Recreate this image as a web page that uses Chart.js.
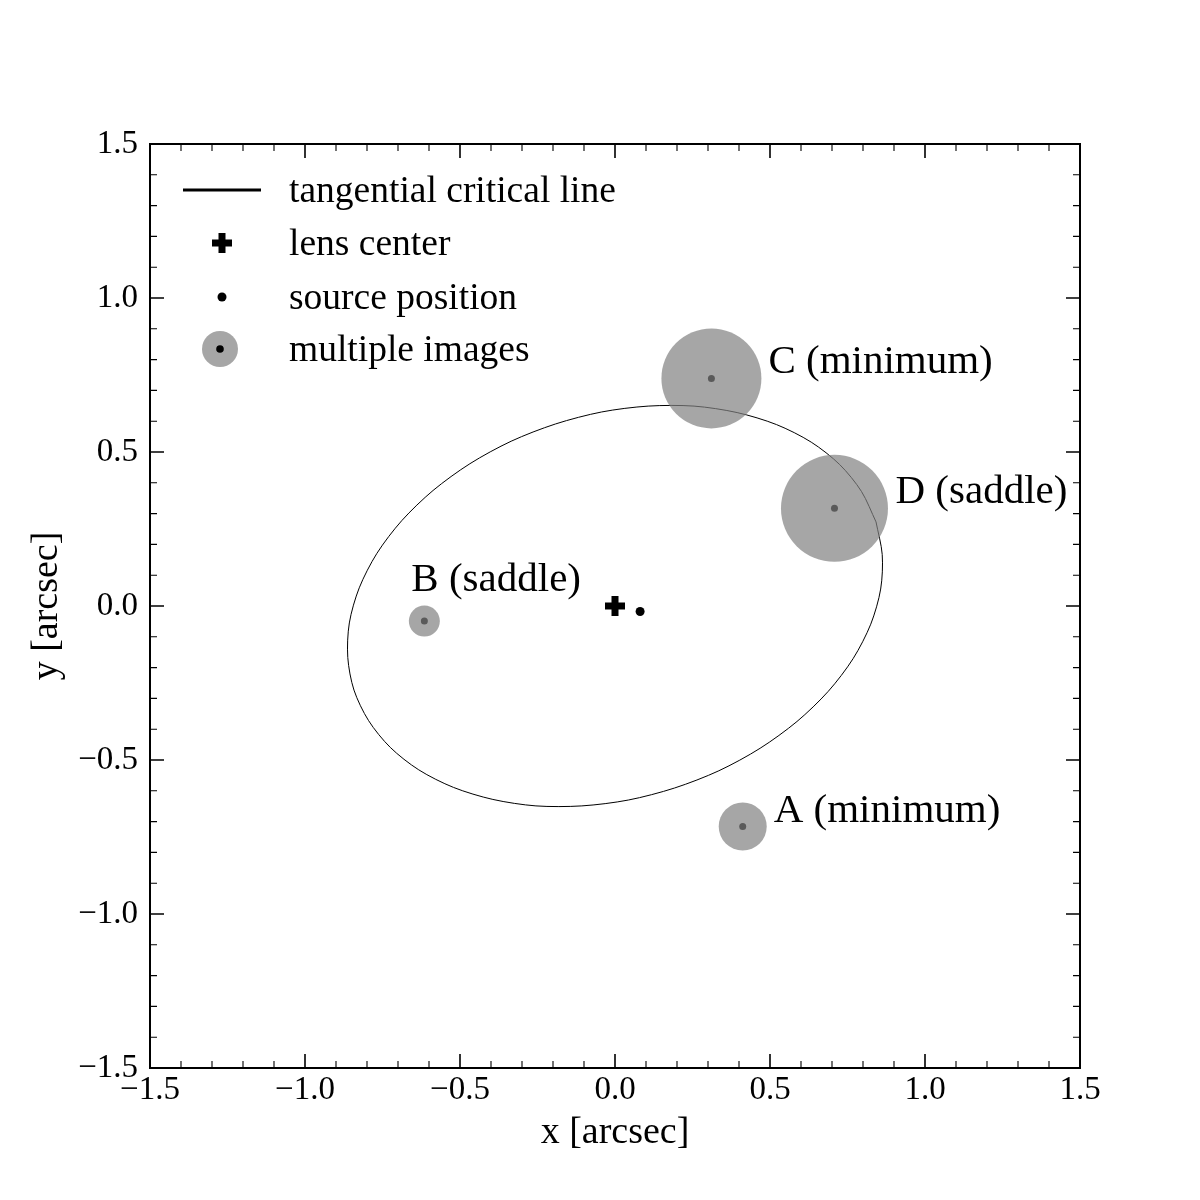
<!DOCTYPE html>
<html>
<head>
<meta charset="utf-8">
<script src="https://cdn.jsdelivr.net/npm/chart.js@4"></script>
<style>
  html, body { margin: 0; padding: 0; background: #fff; }
  #lens { display: block; }
</style>
</head>
<body>
<canvas id="lens" width="1200" height="1200"></canvas>
<script>
// lens model: positions in arcsec
const lensCenterX = [0.0];
const lensCenterY = [0.0];
const sourceX = [0.081];
const sourceY = [-0.018];

// multiple images A, B, C, D
const imageNames = ['A (minimum)', 'B (saddle)', 'C (minimum)', 'D (saddle)'];
const imageX = [0.412, -0.615, 0.311, 0.708];
const imageY = [-0.716, -0.049, 0.739, 0.317];
const imageMagnification = [2.4, 1.55, 5.0, 5.35];

// tangential critical line
const criticalX = [0.842, 0.795, 0.725, 0.633, 0.521, 0.394, 0.255, 0.107, -0.043, -0.192,
  -0.335, -0.468, -0.587, -0.688, -0.768, -0.825, -0.857, -0.862, -0.842, -0.795,
  -0.725, -0.633, -0.521, -0.394, -0.255, -0.107, 0.043, 0.192, 0.335, 0.468,
  0.587, 0.688, 0.768, 0.825, 0.857, 0.862, 0.842];
const criticalY = [0.273, 0.372, 0.459, 0.532, 0.589, 0.628, 0.649, 0.649, 0.630, 0.591,
  0.535, 0.462, 0.375, 0.277, 0.171, 0.059, -0.055, -0.167, -0.273, -0.372,
  -0.459, -0.532, -0.589, -0.628, -0.649, -0.649, -0.630, -0.591, -0.535, -0.462,
  -0.375, -0.277, -0.171, -0.059, 0.055, 0.167, 0.273];

const axisMin = -1.5;
const axisMax = 1.5;

const SERIF = '"Liberation Serif", "DejaVu Serif", serif';
const imageGray = 'rgba(128, 128, 128, 0.7)';

const toPoints = (xs, ys) => xs.map((v, i) => ({ x: v, y: ys[i] }));
const fmtTick = v => v.toFixed(1).replace('-', '\u2212');

// inward ticks on all four sides + frame
const frameAndTicks = {
  id: 'frameAndTicks',
  afterDraw(chart) {
    const { ctx, chartArea: a, scales: { x, y } } = chart;
    ctx.save();
    ctx.strokeStyle = '#000';
    for (let i = -15; i <= 15; i++) {
      const v = i / 10;
      const major = i % 5 === 0;
      const len = major ? 14 : 7;
      ctx.lineWidth = major ? 1.6 : 1.1;
      const px = x.getPixelForValue(v);
      const py = y.getPixelForValue(v);
      ctx.beginPath();
      ctx.moveTo(px, a.bottom); ctx.lineTo(px, a.bottom - len);
      ctx.moveTo(px, a.top); ctx.lineTo(px, a.top + len);
      ctx.moveTo(a.left, py); ctx.lineTo(a.left + len, py);
      ctx.moveTo(a.right, py); ctx.lineTo(a.right - len, py);
      ctx.stroke();
    }
    ctx.lineWidth = 2;
    ctx.strokeRect(a.left, a.top, a.right - a.left, a.bottom - a.top);
    ctx.restore();
  }
};

// text next to each image
const imageLabels = {
  id: 'imageLabels',
  afterDatasetsDraw(chart, args, opts) {
    const { ctx, scales: { x, y } } = chart;
    ctx.save();
    ctx.fillStyle = '#000';
    ctx.font = `41px ${SERIF}`;
    ctx.textAlign = 'left';
    ctx.textBaseline = 'alphabetic';
    imageNames.forEach((name, i) => {
      const [dx, dy] = opts.offsets[i];
      ctx.fillText(name, x.getPixelForValue(imageX[i]) + dx, y.getPixelForValue(imageY[i]) + dy);
    });
    ctx.restore();
  }
};

// hand-drawn legend, matplotlib style
const lensLegend = {
  id: 'lensLegend',
  afterDraw(chart) {
    const { ctx, chartArea: a } = chart;
    const hx = a.left + 72;
    const tx = a.left + 139;
    const rows = [a.top + 46, a.top + 99, a.top + 153, a.top + 205];
    ctx.save();
    ctx.fillStyle = '#000';
    ctx.strokeStyle = '#000';

    ctx.lineWidth = 3;
    ctx.beginPath();
    ctx.moveTo(hx - 39, rows[0]); ctx.lineTo(hx + 39, rows[0]);
    ctx.stroke();

    ctx.lineWidth = 7;
    ctx.beginPath();
    ctx.moveTo(hx - 10, rows[1]); ctx.lineTo(hx + 10, rows[1]);
    ctx.moveTo(hx, rows[1] - 10); ctx.lineTo(hx, rows[1] + 10);
    ctx.stroke();

    ctx.beginPath();
    ctx.arc(hx, rows[2], 4.5, 0, Math.PI * 2);
    ctx.fill();

    ctx.fillStyle = imageGray;
    ctx.beginPath();
    ctx.arc(hx - 2, rows[3], 18, 0, Math.PI * 2);
    ctx.fill();
    ctx.fillStyle = '#000';
    ctx.beginPath();
    ctx.arc(hx - 2, rows[3], 3.8, 0, Math.PI * 2);
    ctx.fill();

    ctx.font = `37.5px ${SERIF}`;
    ctx.textAlign = 'left';
    ctx.textBaseline = 'middle';
    ['tangential critical line', 'lens center', 'source position', 'multiple images']
      .forEach((t, i) => ctx.fillText(t, tx, rows[i] + 2));
    ctx.restore();
  }
};

new Chart(document.getElementById('lens'), {
  type: 'scatter',
  data: {
    datasets: [
      {
        label: 'multiple images',
        data: toPoints(imageX, imageY),
        pointRadius: imageMagnification.map(m => m * 10),
        backgroundColor: imageGray,
        borderWidth: 0,
        order: 0
      },
      {
        label: 'image positions',
        data: toPoints(imageX, imageY),
        pointRadius: 3.5,
        backgroundColor: '#000',
        borderWidth: 0,
        order: 1
      },
      {
        label: 'source position',
        data: toPoints(sourceX, sourceY),
        pointRadius: 4.5,
        backgroundColor: '#000',
        borderWidth: 0,
        order: 2
      },
      {
        label: 'lens center',
        data: toPoints(lensCenterX, lensCenterY),
        pointStyle: 'cross',
        pointRadius: 10,
        borderColor: '#000',
        borderWidth: 7,
        order: 3
      },
      {
        label: 'tangential critical line',
        data: toPoints(criticalX, criticalY),
        showLine: true,
        pointRadius: 0,
        borderColor: '#000',
        borderWidth: 1,
        tension: 0.3,
        fill: false,
        order: 4
      }
    ]
  },
  options: {
    responsive: false,
    animation: false,
    devicePixelRatio: 1,
    layout: { padding: { top: 144, right: 120, left: 0, bottom: 0 } },
    plugins: {
      legend: { display: false },
      tooltip: { enabled: false },
      imageLabels: { offsets: [[31, -5], [-13, -30], [57, -5], [61, -5]] }
    },
    scales: {
      x: {
        type: 'linear',
        min: axisMin,
        max: axisMax,
        afterFit: s => { s.height = 132; },
        grid: { display: false, drawTicks: false },
        border: { display: false },
        ticks: {
          stepSize: 0.5,
          padding: 3,
          maxRotation: 0,
          color: '#000',
          font: { family: SERIF, size: 33 },
          callback: v => fmtTick(v)
        },
        title: {
          display: true,
          text: 'x [arcsec]',
          color: '#000',
          font: { family: SERIF, size: 38 },
          padding: { top: 0, bottom: 44 }
        }
      },
      y: {
        type: 'linear',
        min: axisMin,
        max: axisMax,
        afterFit: s => { s.width = 150; },
        grid: { display: false, drawTicks: false },
        border: { display: false },
        ticks: {
          stepSize: 0.5,
          padding: 12,
          color: '#000',
          font: { family: SERIF, size: 33 },
          callback: v => fmtTick(v)
        },
        title: {
          display: true,
          text: 'y [arcsec]',
          color: '#000',
          font: { family: SERIF, size: 38 },
          padding: { top: 24, bottom: 0 }
        }
      }
    }
  },
  plugins: [frameAndTicks, imageLabels, lensLegend]
});
</script>
</body>
</html>
